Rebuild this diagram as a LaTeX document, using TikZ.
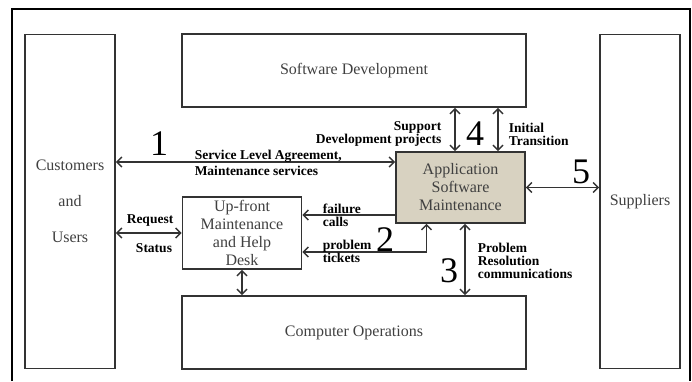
\documentclass[tikz,border=0pt]{standalone}
\usepackage{fontspec}
\setmainfont{Liberation Serif}
\usetikzlibrary{arrows.meta}
\definecolor{asmfill}{RGB}{216,210,193}

\begin{document}
\begin{tikzpicture}[x=1pt,y=-1pt,line width=1.5pt,draw=black!80,>={Straight Barb[length=5pt,width=10pt]}]
    \tikzstyle{block}=[draw=black!80,line width=1.6pt,inner sep=0pt,align=center,text=black!75,font=\fontsize{16}{18}\selectfont]
    \tikzstyle{asm block}=[block,fill=asmfill]
    \tikzstyle{annot}=[font=\bfseries\fontsize{13.5}{13}\selectfont,inner sep=0pt]
    \tikzstyle{num}=[font=\fontsize{36}{36}\selectfont,inner sep=0pt]

    \useasboundingbox (0,0) rectangle (692,381);
    % Outer frame
    \draw[black] (12,381) -- (12,9) -- (690,9) -- (690,381);

    % Draw the boxes
    \node[block,minimum width=90pt,minimum height=334pt] (cust) at (70,201.5) {Customers\\[18pt]and\\[18pt]Users};
    \node[block,minimum width=80pt,minimum height=334pt] (supp) at (640,201.5) {Suppliers};
    \node[block,minimum width=344pt,minimum height=73pt] (swdev) at (354,70.5) {Software Development};
    \node[block,minimum width=344pt,minimum height=73pt] (compops) at (354,332.5) {Computer Operations};
    \node[asm block,minimum width=129pt,minimum height=71pt] (asm) at (460.5,187.5) {Application\\Software\\Maintenance};
    \node[block,minimum width=119pt,minimum height=72pt] (upfront) at (242,233) {Up-front\\Maintenance\\and Help\\Desk};

    % 1: customers and maintenance
    \draw[<->] ([yshift=25.5pt]asm.west -| cust.east) -- ([yshift=25.5pt]asm.west);
    \node[num] (n1) at (159,144) {1};
    \node[annot,align=left,anchor=west,font=\bfseries\fontsize{13.5}{16}\selectfont] (sla) at (194,163) {Service Level Agreement,\\Maintenance services};

    % 2: help desk and maintenance
    \draw[->] ([yshift=-27.5pt]asm.west) -- ([yshift=-27.5pt]asm.west -| upfront.east);
    \draw[<->] ([xshift=-34pt]asm.south) |- ([yshift=-19pt]upfront.east);
    \node[annot,align=left,anchor=west] (fail) at (322,215.5) {failure\\calls};
    \node[annot,align=left,anchor=west] (tick) at (322,251.5) {problem\\tickets};
    \node[num] (n2) at (385,240) {2};

    % 3: computer operations
    \draw[<->] ([xshift=4.5pt]asm.south) -- ([xshift=4.5pt]asm.south |- compops.north);
    \node[num] (n3) at (449,271) {3};
    \node[annot,align=left,anchor=west] (prob) at (477,261) {Problem\\Resolution\\communications};

    % 4: software development
    \foreach \dx in {-5.5,37.5}
        \draw[<->] ([xshift=\dx pt]asm.north) -- ([xshift=\dx pt]asm.north |- swdev.south);
    \node[num] (n4) at (475,134) {4};
    \node[annot,align=right,anchor=east] (supdev) at (442,134) {Support\\Development projects};
    \node[annot,align=left,anchor=west] (init) at (508,134) {Initial\\Transition};

    % 5: suppliers
    \draw[<->] (asm.east) -- (asm.east -| supp.west);
    \node[num] (n5) at (581,172) {5};

    % Customers and help desk, help desk and operations
    \draw[<->] (upfront.west -| cust.east) -- (upfront.west);
    \node[annot] (req) at (150,221) {Request};
    \node[annot] (stat) at (154,248) {Status};
    \draw[<->] (upfront.south) -- (upfront.south |- compops.north);
\end{tikzpicture}
\end{document}
